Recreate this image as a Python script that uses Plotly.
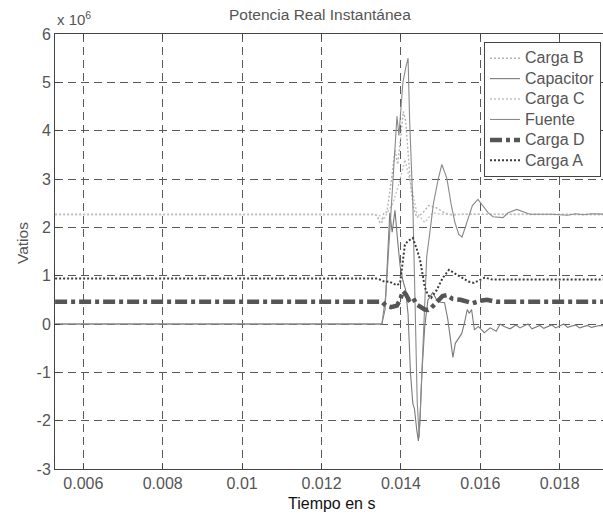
import plotly.graph_objects as go

# ---------------- data (values in units of 1e6 W) ----------------
t_carga_b = [0.00529, 0.01335, 0.01342, 0.01348, 0.01352, 0.01357, 0.01365, 0.01370, 0.01378,
             0.01385, 0.01392, 0.01400, 0.01406, 0.01412, 0.01418, 0.01425, 0.01432, 0.01440,
             0.01455, 0.01470, 0.01490, 0.01510, 0.01530, 0.01550, 0.01920]
v_carga_b = [2.27, 2.27, 2.20, 2.08, 2.10, 2.30, 2.32, 2.60, 3.10,
             3.60, 3.30, 3.90, 4.40, 4.20, 3.60, 2.80, 2.40, 2.20,
             2.30, 2.45, 2.40, 2.30, 2.25, 2.27, 2.27]

t_capacitor = [0.00529, 0.01352, 0.01360, 0.01367, 0.01372, 0.01378, 0.01385, 0.01392, 0.01398,
               0.01405, 0.01412, 0.01418, 0.01424, 0.01430, 0.01434, 0.01440, 0.01444, 0.01448,
               0.01453, 0.01460, 0.01468, 0.01480, 0.01490, 0.01500, 0.01510, 0.01518, 0.01526,
               0.01531, 0.01537, 0.01545, 0.01553, 0.01560, 0.01567, 0.01572, 0.01578, 0.01585,
               0.01595, 0.01610, 0.01625, 0.01640, 0.01650, 0.01660, 0.01675, 0.01690, 0.01700,
               0.01720, 0.01730, 0.01750, 0.01760, 0.01780, 0.01790, 0.01810, 0.01820, 0.01840,
               0.01850, 0.01870, 0.01880, 0.01900, 0.01920]
v_capacitor = [0.00, 0.00, 0.30, 1.50, 2.30, 1.90, 2.35, 1.70, 1.20,
               0.90, 0.70, 0.20, -1.00, -1.65, -1.75, -2.20, -2.42, -2.00,
               -1.00, -0.05, 0.50, 0.65, 0.50, 0.45, 0.44, 0.10, -0.40,
               -0.69, -0.40, -0.30, -0.20, 0.02, 0.30, 0.22, 0.30, -0.12,
               -0.05, -0.18, -0.08, -0.15, 0.00, -0.05, -0.10, -0.02, -0.08,
               0.00, -0.10, -0.03, -0.09, -0.02, -0.08, 0.00, -0.07, -0.02,
               -0.08, -0.03, -0.07, -0.03, -0.05]

t_carga_c = [0.00529, 0.01345, 0.01355, 0.01365, 0.01380, 0.01395, 0.01410, 0.01425, 0.01440,
             0.01460, 0.01480, 0.01500, 0.01920]
v_carga_c = [2.26, 2.26, 2.15, 2.30, 2.50, 2.90, 3.40, 2.90, 2.30,
             2.10, 2.30, 2.27, 2.26]

t_fuente = [0.00529, 0.01352, 0.01362, 0.01372, 0.01380, 0.01385, 0.01390, 0.01395, 0.01400,
            0.01405, 0.01412, 0.01418, 0.01422, 0.01426, 0.01430, 0.01436, 0.01441, 0.01446,
            0.01450, 0.01456, 0.01465, 0.01473, 0.01482, 0.01494, 0.01503, 0.01512, 0.01516,
            0.01526, 0.01536, 0.01546, 0.01554, 0.01566, 0.01580, 0.01594, 0.01607, 0.01620,
            0.01632, 0.01657, 0.01670, 0.01692, 0.01725, 0.01780, 0.01820, 0.01840, 0.01860,
            0.01880, 0.01920]
v_fuente = [0.00, 0.00, 0.60, 1.90, 2.90, 3.70, 4.30, 3.90, 4.40,
            5.00, 5.30, 5.50, 4.20, 3.30, 2.50, 0.30, -1.60, -2.35,
            -1.60, -0.20, 1.40, 1.90, 2.50, 3.00, 3.30, 3.10, 3.00,
            2.50, 2.10, 1.85, 1.80, 2.10, 2.45, 2.58, 2.43, 2.30,
            2.22, 2.20, 2.30, 2.37, 2.27, 2.27, 2.25, 2.28, 2.26,
            2.28, 2.27]

t_carga_d = [0.00529, 0.01352, 0.01362, 0.01375, 0.01390, 0.01398, 0.01405, 0.01412, 0.01420,
             0.01430, 0.01440, 0.01450, 0.01460, 0.01468, 0.01476, 0.01490, 0.01505, 0.01516,
             0.01530, 0.01550, 0.01570, 0.01581, 0.01600, 0.01617, 0.01640, 0.01920]
v_carga_d = [0.46, 0.46, 0.38, 0.35, 0.38, 0.50, 0.68, 0.62, 0.50,
             0.55, 0.40, 0.35, 0.30, 0.29, 0.33, 0.45, 0.58, 0.60,
             0.52, 0.50, 0.45, 0.43, 0.48, 0.50, 0.46, 0.46]

t_carga_a = [0.00529, 0.01342, 0.01352, 0.01360, 0.01370, 0.01380, 0.01390, 0.01398, 0.01404,
             0.01410, 0.01418, 0.01430, 0.01440, 0.01448, 0.01460, 0.01468, 0.01476, 0.01490,
             0.01505, 0.01521, 0.01535, 0.01555, 0.01570, 0.01584, 0.01597, 0.01611, 0.01630,
             0.01649, 0.01920]
v_carga_a = [0.94, 0.94, 0.90, 0.87, 0.88, 0.84, 0.80, 0.85, 1.30,
             1.64, 1.72, 1.78, 1.55, 1.33, 0.77, 0.60, 0.54, 0.70,
             0.95, 1.12, 1.05, 0.95, 0.88, 0.85, 0.90, 0.96, 0.92,
             0.92, 0.92]

x_tick_vals = [0.006, 0.008, 0.010, 0.012, 0.014, 0.016, 0.018]
x_tick_text = ["0.006", "0.008", "0.01", "0.012", "0.014", "0.016", "0.018"]
y_tick_vals = [-3, -2, -1, 0, 1, 2, 3, 4, 5, 6]

SCALE = 1e6

series = [
    ("Carga B", t_carga_b, v_carga_b, dict(color="#b2b2b2", width=1.4, dash="2px,2px")),
    ("Capacitor", t_capacitor, v_capacitor, dict(color="#7a7a7a", width=1.1)),
    ("Carga C", t_carga_c, v_carga_c, dict(color="#c4c4c4", width=1.4, dash="2px,2px")),
    ("Fuente", t_fuente, v_fuente, dict(color="#8a8a8a", width=1.1)),
    ("Carga D", t_carga_d, v_carga_d, dict(color="#555555", width=4.5, dash="12px,4px,4px,4px")),
    ("Carga A", t_carga_a, v_carga_a, dict(color="#3c3c3c", width=2, dash="2px,2px")),
]

fig = go.Figure()
for name, t, v, line in series:
    fig.add_trace(go.Scatter(x=t, y=[val * SCALE for val in v], mode="lines",
                             name=f"<span style='font-size:16px'>{name}</span>", line=line))

FONT = "Liberation Sans, Arial, sans-serif"
grid = dict(showgrid=True, gridcolor="#5a5a5a", gridwidth=1, griddash="8px,5px")

fig.update_layout(
    template="none",
    width=603, height=514,
    margin=dict(l=55, r=0, t=34, b=45, autoexpand=False),
    paper_bgcolor="white", plot_bgcolor="white",
    font=dict(family=FONT, size=15, color="#555555"),
    showlegend=True,
    legend=dict(x=(601 - 55) / 548, y=(469 - 42) / 435, xanchor="right", yanchor="top",
                bgcolor="white", bordercolor="#444444", borderwidth=1,
                font=dict(family=FONT, size=13.4, color="#555555"),
                tracegroupgap=0, itemwidth=30),
    xaxis=dict(range=[0.005287, 0.01909], tickvals=x_tick_vals, ticktext=x_tick_text,
               ticks="inside", ticklen=5, tickcolor="#444444", automargin=False,
               showline=True, linecolor="#444444", linewidth=1, mirror="allticks",
               zeroline=False, tickfont=dict(size=16, color="#555555"), **grid),
    yaxis=dict(range=[-3 * SCALE, 6 * SCALE], tickvals=[y * SCALE for y in y_tick_vals],
               ticktext=[str(y) for y in y_tick_vals], automargin=False,
               ticks="inside", ticklen=5, tickcolor="#444444",
               showline=True, linecolor="#444444", linewidth=1,
               zeroline=False, tickfont=dict(size=16, color="#555555"), **grid),
)

fig.add_annotation(text="Potencia Real Instantánea", xref="paper", yref="paper",
                   x=(320 - 55) / 548, y=(469 - 14) / 435, xanchor="center", yanchor="middle",
                   showarrow=False, font=dict(family=FONT, size=15.5, color="#555555"))
fig.add_annotation(text="x 10<sup>6</sup>", xref="paper", yref="paper",
                   x=(55 - 55) / 548, y=(469 - 18) / 435, xanchor="left", yanchor="middle",
                   showarrow=False, font=dict(family=FONT, size=15, color="#555555"))
fig.add_annotation(text="Vatios", xref="paper", yref="paper",
                   x=(22 - 55) / 548, y=(469 - 243) / 435, xanchor="center", yanchor="middle",
                   textangle=-90, showarrow=False,
                   font=dict(family=FONT, size=15.5, color="#555555"))
fig.add_annotation(text="Tiempo en s", xref="paper", yref="paper",
                   x=(331 - 55) / 548, y=(469 - 503) / 435, xanchor="center", yanchor="middle",
                   showarrow=False, font=dict(family=FONT, size=16, color="#111111"))

fig.write_html("out.html", config={"displayModeBar": False},
               post_script="document.body.style.margin='0';document.body.style.padding='0';")
